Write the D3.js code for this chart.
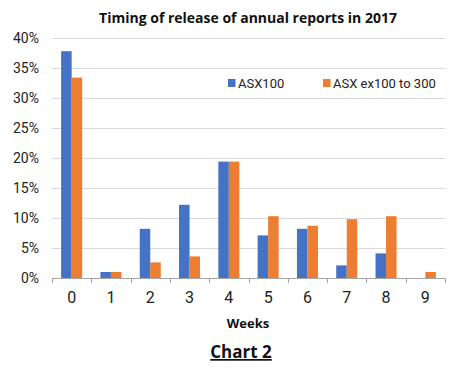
<!DOCTYPE html>
<html>
<head>
<meta charset="utf-8">
<script src="https://cdn.jsdelivr.net/npm/d3@7"></script>
<style>
  body { margin: 0; background: #fff; }
  svg { display: block; }
  .tick text { font-family: "Liberation Sans Narrow", "Roboto", sans-serif; fill: #222; }
</style>
</head>
<body>
<svg width="462" height="371"></svg>
<script>
var weeks = ["0", "1", "2", "3", "4", "5", "6", "7", "8", "9"];
var seriesNames = ["ASX100", "ASX ex100 to 300"];
var asx100 = [37.8, 1.0, 8.2, 12.2, 19.4, 7.1, 8.2, 2.1, 4.1, 0];
var asx300 = [33.4, 1.0, 2.6, 3.6, 19.4, 10.3, 8.7, 9.8, 10.3, 1.0];
var yTicks = [0, 5, 10, 15, 20, 25, 30, 35, 40];
var colors = ["#4472C4", "#ED7D31"];

var svg = d3.select("svg");
var plotLeft = 52, plotRight = 445, plotTop = 38, plotBottom = 278;

var x = d3.scaleBand().domain(weeks).range([plotLeft, plotRight]).paddingInner(0.465).paddingOuter(0.2325);
var xInner = d3.scaleBand().domain([0, 1]).range([0, x.bandwidth()]);
var y = d3.scaleLinear().domain([0, 40]).range([plotBottom, plotTop]);

// gridlines
svg.append("g")
    .selectAll("line")
    .data(yTicks.slice(1))
    .enter()
    .append("line")
    .attr("x1", plotLeft).attr("x2", plotRight)
    .attr("y1", d => Math.round(y(d)) + 0.5).attr("y2", d => Math.round(y(d)) + 0.5)
    .attr("stroke", "#d9d9d9")
    .attr("stroke-width", 1);

// y axis labels
var yAxis = svg.append("g")
    .attr("transform", "translate(" + (plotLeft - 13) + ",0)")
    .call(d3.axisLeft(y).tickValues(yTicks).tickFormat(d => d + "%").tickSize(0).tickPadding(0));
yAxis.select(".domain").remove();
yAxis.selectAll("text").attr("font-size", 14).attr("dy", "0.35em");

// bars
var data = [asx100, asx300];
data.forEach((vals, s) => {
    svg.append("g")
        .selectAll("rect")
        .data(vals)
        .enter()
        .append("rect")
        .attr("x", (d, i) => x(weeks[i]) + xInner(s))
        .attr("width", xInner.bandwidth())
        .attr("y", d => y(d))
        .attr("height", d => plotBottom - y(d))
        .attr("fill", colors[s]);
});

// x axis
var xAxisG = svg.append("g")
    .attr("transform", "translate(0," + plotBottom + ")")
    .call(d3.axisBottom(x).tickSize(0).tickPadding(14));
xAxisG.select(".domain").attr("stroke", "#a6a6a6").attr("d", "M" + plotLeft + ",0.5H" + plotRight);
xAxisG.selectAll("text").attr("font-size", 16);

// category tick marks at band edges
var edges = weeks.map(w => x(w) - x.step() * x.paddingInner() / 2);
edges.push(plotRight);
xAxisG.append("g")
    .selectAll("line")
    .data(edges)
    .enter()
    .append("line")
    .attr("x1", d => Math.round(d) + 0.5).attr("x2", d => Math.round(d) + 0.5)
    .attr("y1", 0).attr("y2", 5)
    .attr("stroke", "#a6a6a6");

// legend
var legend = svg.append("g");
var legendX = [228, 323];
seriesNames.forEach((name, i) => {
    legend.append("rect")
        .attr("x", legendX[i]).attr("y", 79)
        .attr("width", 7.5).attr("height", 8)
        .attr("fill", colors[i]);
    legend.append("text")
        .attr("x", legendX[i] + 10).attr("y", 88)
        .attr("font-family", "Liberation Sans Narrow, Roboto, sans-serif")
        .attr("font-size", 13)
        .attr("fill", "#222")
        .text(name);
});

// title
svg.append("text")
    .attr("x", 248).attr("y", 23)
    .attr("text-anchor", "middle")
    .attr("font-family", "Open Sans, sans-serif")
    .attr("font-weight", "bold")
    .attr("font-size", 14)
    .attr("fill", "#111")
    .text("Timing of release of annual reports in 2017");

// axis title
svg.append("text")
    .attr("x", 248).attr("y", 328)
    .attr("text-anchor", "middle")
    .attr("font-family", "Open Sans, sans-serif")
    .attr("font-weight", "bold")
    .attr("font-size", 13)
    .attr("fill", "#111")
    .text("Weeks");

// caption
svg.append("text")
    .attr("x", 241).attr("y", 358)
    .attr("text-anchor", "middle")
    .attr("font-family", "Open Sans, sans-serif")
    .attr("font-weight", "bold")
    .attr("font-size", 17)
    .attr("fill", "#111")
    .attr("text-decoration", "underline")
    .text("Chart 2");
</script>
</body>
</html>
